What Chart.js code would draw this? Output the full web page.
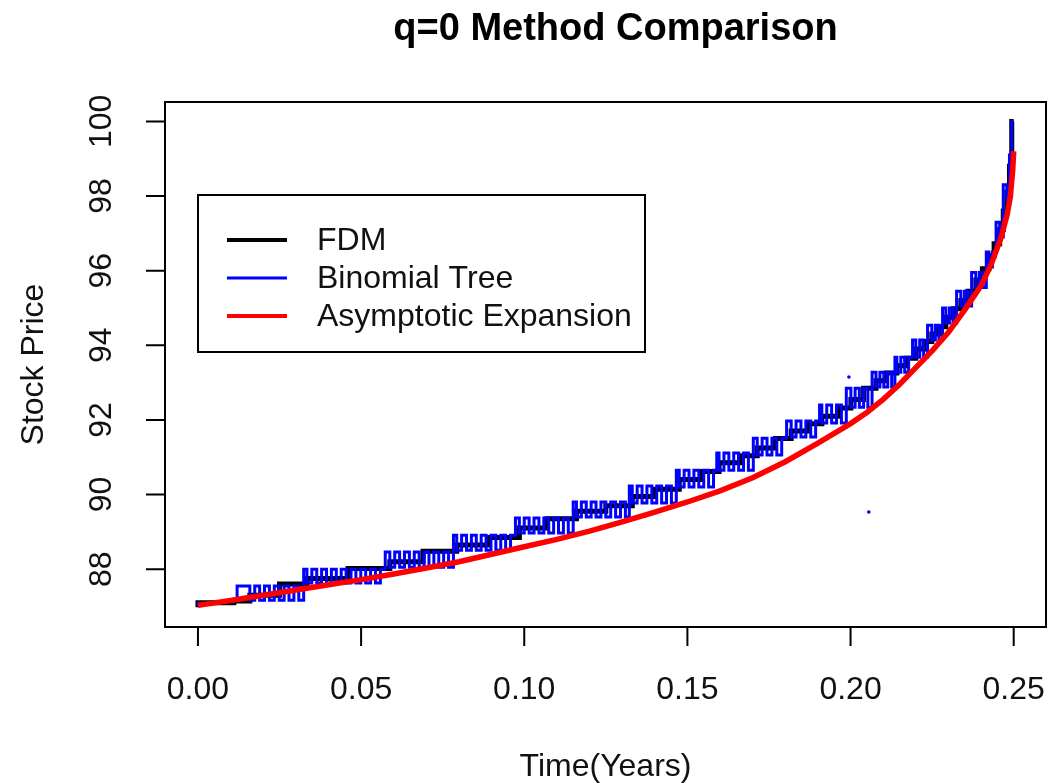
<!DOCTYPE html>
<html lang="en">
<head>
    <meta charset="UTF-8">
    <title>q=0 Method Comparison</title>
    <style>
        html, body{
            margin: 0;
            padding: 0;
            background-color: #fff;
        }
        #diagramm{
            display: block;
        }
    </style>
</head>
<body>
    <canvas id="diagramm" width="1050" height="783"></canvas>

    <script src="https://cdn.jsdelivr.net/npm/chart.js"></script>
    <script>
        // ticks
        const xTicks = [0, 0.05, 0.10, 0.15, 0.20, 0.25];
        const xTickLabels = ['0.00', '0.05', '0.10', '0.15', '0.20', '0.25'];
        const yTicks = [88, 90, 92, 94, 96, 98, 100];
        const yTickLabels = ['88', '90', '92', '94', '96', '98', '100'];

        const seriesNames = ['FDM', 'Binomial Tree', 'Asymptotic Expansion'];

        // FDM boundary [t, S]
        const fdmPts = [
            [0, 86.98], [0.011, 87.1], [0.0159, 87.15], [0.025, 87.3], [0.0334, 87.6], [0.046, 87.75],
            [0.0588, 88.02], [0.069, 88.2], [0.0793, 88.48], [0.089, 88.65], [0.0985, 88.85], [0.107, 89.1],
            [0.116, 89.35], [0.125, 89.55], [0.1331, 89.7], [0.140, 89.95], [0.1475, 90.14], [0.154, 90.4],
            [0.1597, 90.62], [0.166, 90.85], [0.1714, 91.04], [0.177, 91.25], [0.1818, 91.5], [0.187, 91.7],
            [0.1912, 91.9], [0.196, 92.1], [0.2001, 92.32], [0.204, 92.55], [0.2078, 92.85], [0.211, 93.05],
            [0.2142, 93.26], [0.217, 93.45], [0.22, 93.65], [0.2225, 93.9], [0.2249, 94.1], [0.227, 94.3],
            [0.2292, 94.5], [0.2315, 94.75], [0.2338, 94.98], [0.236, 95.2], [0.2384, 95.45], [0.2404, 95.75],
            [0.2424, 96.05], [0.244, 96.4], [0.2457, 96.72], [0.2468, 97.1], [0.2479, 97.6], [0.2487, 98.1],
            [0.2494, 98.8], [0.25, 100]
        ];

        // Binomial tree boundary [t, S]
        const treePts = [
            [0, 87.03], [0.004, 87.08], [0.008, 87.12], [0.012, 87.16],
            [0.0159, 87.55], [0.0174, 87.17], [0.0189, 87.55], [0.0204, 87.17], [0.0219, 87.55], [0.0234, 87.17],
            [0.0249, 87.55], [0.0264, 87.17], [0.0279, 87.55], [0.0294, 87.17], [0.0309, 87.55], [0.0324, 87.17],
            [0.0334, 88.0], [0.0349, 87.63], [0.0364, 88.0], [0.0379, 87.63], [0.0394, 88.0], [0.0409, 87.63],
            [0.0424, 88.0], [0.0439, 87.63], [0.0454, 88.0], [0.0469, 87.63], [0.0484, 88.0], [0.0499, 87.63],
            [0.0514, 88.0], [0.0529, 87.63], [0.0544, 88.0], [0.0559, 87.63], [0.0574, 88.0],
            [0.0588, 88.46], [0.0603, 88.05], [0.0618, 88.46], [0.0633, 88.05], [0.0648, 88.46], [0.0663, 88.05],
            [0.0678, 88.46], [0.0693, 88.05], [0.0708, 88.46], [0.0723, 88.05], [0.0738, 88.46], [0.0753, 88.05],
            [0.0768, 88.46], [0.0783, 88.05],
            [0.0793, 88.91], [0.0808, 88.51], [0.0823, 88.91], [0.0838, 88.51], [0.0853, 88.91], [0.0868, 88.51],
            [0.0883, 88.91], [0.0898, 88.51], [0.0913, 88.91], [0.0928, 88.51], [0.0943, 88.91], [0.0958, 88.51],
            [0.0973, 88.91],
            [0.0985, 89.37], [0.1000, 88.97], [0.1015, 89.37], [0.1030, 88.97], [0.1045, 89.37], [0.1060, 88.97],
            [0.1075, 89.37], [0.1090, 88.97], [0.1105, 89.37], [0.1120, 88.97], [0.1135, 89.37], [0.1150, 88.97],
            [0.1160, 89.80], [0.1175, 89.40], [0.1190, 89.80], [0.1205, 89.40], [0.1220, 89.80], [0.1235, 89.40],
            [0.1250, 89.80], [0.1265, 89.40], [0.1280, 89.80], [0.1295, 89.40], [0.1310, 89.80], [0.1322, 89.40],
            [0.1331, 90.23], [0.1346, 89.77], [0.1361, 90.23], [0.1376, 89.77], [0.1391, 90.23], [0.1406, 89.77],
            [0.1421, 90.23], [0.1436, 89.77], [0.1451, 90.23], [0.1466, 89.77],
            [0.1475, 90.65], [0.1490, 90.20], [0.1505, 90.65], [0.1520, 90.20], [0.1535, 90.65], [0.1550, 90.20],
            [0.1565, 90.65], [0.1580, 90.20], [0.1590, 90.65],
            [0.1597, 91.11], [0.1612, 90.65], [0.1627, 91.11], [0.1642, 90.65], [0.1657, 91.11], [0.1672, 90.65],
            [0.1687, 91.11], [0.1702, 90.65],
            [0.1714, 91.51], [0.1729, 91.06], [0.1744, 91.51], [0.1759, 91.06], [0.1774, 91.51], [0.1789, 91.06],
            [0.1804, 91.51],
            [0.1818, 91.97], [0.1833, 91.54], [0.1848, 91.97], [0.1863, 91.54], [0.1878, 91.97], [0.1893, 91.54],
            [0.1905, 91.97],
            [0.1912, 92.40], [0.1927, 91.92], [0.1942, 92.40], [0.1957, 91.92], [0.1972, 92.40], [0.1987, 91.92],
            [0.2001, 92.85], [0.2014, 92.34], [0.2027, 92.85], [0.2040, 92.34], [0.2053, 92.85], [0.2066, 92.34],
            [0.2078, 93.28], [0.2090, 92.88], [0.2102, 93.28], [0.2114, 92.88], [0.2126, 93.28], [0.2136, 92.88],
            [0.2142, 93.68], [0.2154, 93.28], [0.2166, 93.68], [0.2178, 93.28], [0.2190, 93.68],
            [0.2200, 94.14], [0.2212, 93.68], [0.2224, 94.14], [0.2236, 93.68],
            [0.2249, 94.54], [0.2260, 94.14], [0.2271, 94.54], [0.2282, 94.14],
            [0.2292, 95.00], [0.2303, 94.60], [0.2314, 95.00], [0.2325, 94.60],
            [0.2338, 95.45], [0.2349, 95.05], [0.2360, 95.45], [0.2371, 95.05],
            [0.2384, 95.95], [0.2395, 95.55], [0.2406, 95.95], [0.2416, 95.55],
            [0.2424, 96.50], [0.2435, 96.10], [0.2446, 96.50],
            [0.2457, 97.30], [0.2468, 96.90],
            [0.2479, 98.30], [0.2487, 97.90],
            [0.2494, 99.10], [0.2500, 100.0]
        ];

        // two stray tree points
        const treeStray = [[0.1995, 93.15], [0.2056, 89.53]];

        // Asymptotic expansion [t, S]
        const aePts = [
            [0, 87.03], [0.01, 87.16], [0.02, 87.3], [0.03, 87.44], [0.04, 87.58], [0.05, 87.72],
            [0.06, 87.87], [0.07, 88.03], [0.08, 88.2], [0.09, 88.4], [0.10, 88.6], [0.11, 88.8],
            [0.12, 89.02], [0.13, 89.27], [0.14, 89.53], [0.15, 89.8], [0.16, 90.1], [0.17, 90.45],
            [0.18, 90.88], [0.19, 91.38], [0.20, 91.9], [0.205, 92.2], [0.21, 92.55], [0.215, 92.95],
            [0.22, 93.4], [0.225, 93.85], [0.23, 94.35], [0.235, 94.95], [0.24, 95.6], [0.243, 96.15],
            [0.246, 96.85], [0.248, 97.5], [0.249, 98.0], [0.2497, 98.7], [0.25, 99.2]
        ];

        const zuPunkten = arr => arr.map(p => ({x: p[0], y: p[1]}));

        const schrift = '"Liberation Sans", Arial, sans-serif';

        // R-style box, ticks, labels and legend
        const rAchsen = {
            id: 'rAchsen',
            afterDraw(chart) {
                const ctx = chart.ctx;
                const a = chart.chartArea;
                const sx = chart.scales.x;
                const sy = chart.scales.y;
                ctx.save();
                ctx.strokeStyle = '#000';
                ctx.fillStyle = '#111';
                ctx.lineWidth = 2;
                ctx.strokeRect(a.left, a.top, a.right - a.left, a.bottom - a.top);

                // x axis
                ctx.beginPath();
                xTicks.forEach(v => {
                    const px = sx.getPixelForValue(v);
                    ctx.moveTo(px, a.bottom);
                    ctx.lineTo(px, a.bottom + 19);
                });
                ctx.stroke();
                ctx.font = '32px ' + schrift;
                ctx.textAlign = 'center';
                ctx.textBaseline = 'alphabetic';
                xTicks.forEach((v, i) => {
                    ctx.fillText(xTickLabels[i], sx.getPixelForValue(v), 699);
                });

                // y axis
                ctx.beginPath();
                yTicks.forEach(v => {
                    const py = sy.getPixelForValue(v);
                    ctx.moveTo(a.left, py);
                    ctx.lineTo(a.left - 19, py);
                });
                ctx.stroke();
                yTicks.forEach((v, i) => {
                    ctx.save();
                    ctx.translate(111, sy.getPixelForValue(v));
                    ctx.rotate(-Math.PI / 2);
                    ctx.fillText(yTickLabels[i], 0, 0);
                    ctx.restore();
                });

                // axis titles
                const mitteX = (a.left + a.right) / 2;
                const mitteY = (a.top + a.bottom) / 2;
                ctx.fillText('Time(Years)', mitteX, 776);
                ctx.save();
                ctx.translate(43, mitteY);
                ctx.rotate(-Math.PI / 2);
                ctx.fillText('Stock Price', 0, 0);
                ctx.restore();

                // main title
                ctx.fillStyle = '#000';
                ctx.font = 'bold 38px ' + schrift;
                ctx.fillText('q=0 Method Comparison', mitteX + 10, 40);

                // legend
                ctx.lineWidth = 2;
                ctx.strokeRect(198, 195, 447, 157);
                const farben = ['#000000', '#0000ff', '#ff0000'];
                const breiten = [4, 3, 4];
                ctx.font = '32px ' + schrift;
                ctx.textAlign = 'left';
                ctx.textBaseline = 'middle';
                seriesNames.forEach((name, i) => {
                    const yy = 240 + i * 38;
                    ctx.beginPath();
                    ctx.strokeStyle = farben[i];
                    ctx.lineWidth = breiten[i];
                    ctx.moveTo(227, yy);
                    ctx.lineTo(287, yy);
                    ctx.stroke();
                    ctx.fillStyle = '#111';
                    ctx.fillText(name, 317, yy + 1);
                });
                ctx.restore();
            }
        };

        const chart = new Chart(document.getElementById('diagramm').getContext('2d'), {
            type: 'line',
            data: {
                datasets: [
                    {
                        label: seriesNames[2],
                        data: zuPunkten(aePts),
                        borderColor: '#ff0000',
                        borderWidth: 5.5,
                        pointRadius: 0,
                        tension: 0,
                        order: 0
                    },
                    {
                        label: seriesNames[1],
                        data: zuPunkten(treePts),
                        borderColor: '#0000ff',
                        borderWidth: 3,
                        pointRadius: 0,
                        stepped: 'after',
                        order: 1
                    },
                    {
                        label: 'stray',
                        data: zuPunkten(treeStray),
                        showLine: false,
                        pointRadius: 1.8,
                        pointBorderWidth: 0,
                        pointBackgroundColor: '#0000ff',
                        order: 1
                    },
                    {
                        label: seriesNames[0],
                        data: zuPunkten(fdmPts),
                        borderColor: '#000000',
                        borderWidth: 5,
                        pointRadius: 0,
                        stepped: 'after',
                        order: 2
                    }
                ]
            },
            options: {
                responsive: false,
                animation: false,
                layout: {
                    padding: {left: 165, top: 102, right: 3, bottom: 156}
                },
                plugins: {
                    legend: {display: false},
                    title: {display: false},
                    tooltip: {enabled: false}
                },
                scales: {
                    x: {type: 'linear', min: -0.0101, max: 0.2599, display: false},
                    y: {type: 'linear', min: 86.45, max: 100.52, display: false}
                }
            },
            plugins: [rAchsen]
        });
    </script>
</body>
</html>
